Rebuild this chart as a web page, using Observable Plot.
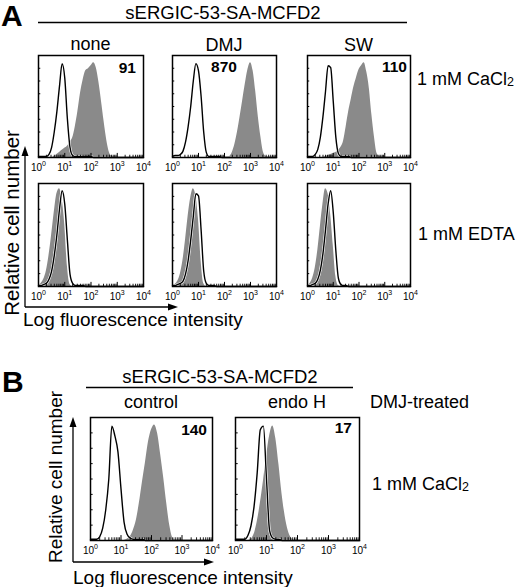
<!DOCTYPE html>
<html><head><meta charset="utf-8">
<script src="https://cdn.jsdelivr.net/npm/d3@7"></script>
<script src="https://cdn.jsdelivr.net/npm/@observablehq/plot@0.6"></script>
<style>
html,body{margin:0;padding:0;background:#fff;}
#fig{position:relative;width:520px;height:587px;overflow:hidden;font-family:"Liberation Sans",Arial,Helvetica,sans-serif;}
#fig svg{position:absolute;}
</style></head><body><div id="fig"></div>
<script>
// bin positions, log10 of fluorescence intensity
const logBins = [
  0.0,0.1,0.2,0.3,0.4,0.5,0.6,0.7,0.8,0.9,
  1.0,1.1,1.2,1.3,1.4,1.5,1.6,1.7,1.8,1.9,
  2.0,2.1,2.2,2.3,2.4,2.5,2.6,2.7,2.8,2.9,
  3.0,3.1,3.2,3.3,3.4,3.5,3.6,3.7,3.8,3.9,
  4.0];

const xTickValues = [1, 10, 100, 1000, 10000];
const xTickBase = ["10", "10", "10", "10", "10"];
const xTickExp = ["0", "1", "2", "3", "4"];

// Panel A, 1 mM CaCl2 (relative cell number, 0..1)
const noneCaOpen = [
  0.01,0.01,0.01,0.01,0.03,0.10,0.25,0.45,0.70,0.92,
  0.78,0.38,0.10,0.02,0.01,0.01,0.01,0.01,0.01,0.01,
  0.01,0,0,0,0,0,0,0,0,0,
  0,0,0,0,0,0,0,0,0,0,
  0];
const noneCaFill = [
  0,0,0,0,0,0,0.01,0.03,0.05,0.07,
  0.09,0.11,0.15,0.19,0.30,0.45,0.63,0.76,0.85,0.87,
  0.90,0.93,0.88,0.74,0.55,0.35,0.17,0.05,0.01,0,
  0,0,0,0,0,0,0,0,0,0,
  0];
const dmjCaOpen = [
  0.01,0.02,0.02,0.03,0.06,0.15,0.30,0.50,0.75,0.92,
  0.85,0.60,0.25,0.05,0.01,0.01,0.01,0.01,0.01,0,
  0,0,0,0,0,0,0,0,0,0,
  0,0,0,0,0,0,0,0,0,0,
  0];
const dmjCaFill = [
  0,0,0,0,0,0,0,0,0,0,
  0,0,0,0,0,0,0,0,0,0,
  0,0,0.01,0.05,0.13,0.25,0.40,0.56,0.72,0.86,
  0.93,0.85,0.65,0.40,0.20,0.05,0.01,0,0,0,
  0];
const swCaOpen = [
  0.01,0.01,0.01,0.03,0.08,0.20,0.40,0.65,0.90,0.88,
  0.55,0.20,0.04,0.01,0.01,0.01,0.01,0,0,0,
  0,0,0,0,0,0,0,0,0,0,
  0,0,0,0,0,0,0,0,0,0,
  0];
const swCaFill = [
  0,0,0,0,0,0,0,0.01,0.02,0.03,
  0.04,0.05,0.07,0.10,0.16,0.30,0.45,0.57,0.69,0.78,
  0.86,0.90,0.93,0.84,0.68,0.42,0.20,0.04,0.01,0,
  0,0,0,0,0,0,0,0,0,0,
  0];

// Panel A, 1 mM EDTA
const noneEdOpen = [
  0.01,0.01,0.02,0.03,0.07,0.15,0.30,0.50,0.75,0.93,
  0.80,0.45,0.12,0.03,0.01,0.01,0.01,0.01,0,0,
  0,0,0,0,0,0,0,0,0,0,
  0,0,0,0,0,0,0,0,0,0,
  0];
const noneEdFill = [
  0.01,0.03,0.07,0.15,0.30,0.50,0.72,0.90,0.95,0.85,
  0.60,0.20,0.02,0,0,0,0,0,0,0,
  0,0,0,0,0,0,0,0,0,0,
  0,0,0,0,0,0,0,0,0,0,
  0];
const dmjEdOpen = [
  0.01,0.01,0.02,0.03,0.05,0.12,0.25,0.45,0.68,0.90,
  0.88,0.55,0.15,0.03,0.01,0.01,0.01,0,0,0,
  0,0,0,0,0,0,0,0,0,0,
  0,0,0,0,0,0,0,0,0,0,
  0];
const dmjEdFill = [
  0.01,0.02,0.05,0.12,0.25,0.45,0.68,0.86,0.95,0.88,
  0.65,0.25,0.03,0,0,0,0,0,0,0,
  0,0,0,0,0,0,0,0,0,0,
  0,0,0,0,0,0,0,0,0,0,
  0];
const swEdOpen = [
  0.01,0.01,0.02,0.03,0.07,0.16,0.32,0.55,0.80,0.93,
  0.72,0.35,0.08,0.02,0.01,0.01,0,0,0,0,
  0,0,0,0,0,0,0,0,0,0,
  0,0,0,0,0,0,0,0,0,0,
  0];
const swEdFill = [
  0.01,0.03,0.08,0.18,0.35,0.58,0.80,0.95,0.90,0.70,
  0.40,0.10,0.01,0,0,0,0,0,0,0,
  0,0,0,0,0,0,0,0,0,0,
  0,0,0,0,0,0,0,0,0,0,
  0];

// Panel B, DMJ-treated, 1 mM CaCl2
const ctrlOpen = [
  0.01,0.01,0.01,0.03,0.10,0.25,0.50,0.93,0.85,0.72,
  0.42,0.15,0.05,0.02,0.01,0.01,0.01,0.01,0,0,
  0,0,0,0,0,0,0,0,0,0,
  0,0,0,0,0,0,0,0,0,0,
  0];
const ctrlFill = [
  0,0,0,0,0,0,0,0,0,0,
  0,0,0.01,0.03,0.08,0.16,0.30,0.47,0.63,0.80,
  0.90,0.94,0.87,0.70,0.51,0.30,0.12,0.02,0,0,
  0,0,0,0,0,0,0,0,0,0,
  0];
const endoOpen = [
  0.01,0.01,0.01,0.01,0.04,0.12,0.28,0.55,0.90,0.93,
  0.50,0.08,0.02,0.01,0.01,0,0,0,0,0,
  0,0,0,0,0,0,0,0,0,0,
  0,0,0,0,0,0,0,0,0,0,
  0];
const endoFill = [
  0,0,0,0,0,0.01,0.05,0.15,0.30,0.48,
  0.68,0.85,0.93,0.83,0.62,0.38,0.20,0.08,0.02,0,
  0,0,0,0,0,0,0,0,0,0,
  0,0,0,0,0,0,0,0,0,0,
  0];

// layout (pixel boxes of the plotting frames)
const panels = [
  {left:38,  top:55,  w:105, h:102, open:noneCaOpen, fill:noneCaFill},
  {left:172, top:55,  w:104, h:102, open:dmjCaOpen,  fill:dmjCaFill},
  {left:307, top:55,  w:103, h:102, open:swCaOpen,   fill:swCaFill},
  {left:38,  top:183, w:105, h:103, open:noneEdOpen, fill:noneEdFill},
  {left:172, top:183, w:104, h:103, open:dmjEdOpen,  fill:dmjEdFill},
  {left:307, top:183, w:103, h:103, open:swEdOpen,   fill:swEdFill},
  {left:90,  top:417, w:122, h:123, open:ctrlOpen,   fill:ctrlFill},
  {left:235, top:417, w:124, h:123, open:endoOpen,   fill:endoFill}
];

const FONT = '"Liberation Sans", Arial, Helvetica, sans-serif';
const fig = document.getElementById("fig");

// minor log ticks
const minorTicks = [];
for (const d of [1, 10, 100, 1000]) for (const k of [2,3,4,5,6,7,8,9]) minorTicks.push(d * k);
const yTickVals = [0.125,0.25,0.375,0.5,0.625,0.75,0.875];

const mL = 10, mR = 10, mT = 3, mB = 20;
for (const p of panels) {
  const data = logBins.map((l, i) => ({x: Math.pow(10, l), open: p.open[i], fill: p.fill[i]}));
  const svg = Plot.plot({
    width: p.w + mL + mR,
    height: p.h + mT + mB,
    marginLeft: mL, marginRight: mR, marginTop: mT, marginBottom: mB,
    style: {fontFamily: FONT, fontSize: "10px", overflow: "visible", background: "transparent"},
    x: {type: "log", domain: [1, 10000], axis: null},
    y: {domain: [0, 1], axis: null},
    marks: [
      Plot.areaY(data, {x: "x", y: "fill", fill: "#8a8a8a", curve: "monotone-x"}),
      Plot.lineY(data, {x: "x", y: "open", stroke: "white", strokeWidth: 2.6, curve: "monotone-x"}),
      Plot.lineY(data, {x: "x", y: "open", stroke: "black", strokeWidth: 1.4, curve: "monotone-x"}),
      Plot.ruleX(minorTicks, {x: d => d, y1: 0, y2: 0.022, stroke: "black", strokeWidth: 0.9}),
      Plot.ruleX(xTickValues, {x: d => d, y1: 0, y2: 0.04, stroke: "black", strokeWidth: 1}),
      Plot.ruleY(yTickVals, {y: d => d, x1: 1, x2: 1.22, stroke: "black", strokeWidth: 1}),
      Plot.frame({stroke: "black", strokeWidth: 1.5}),
      Plot.text(xTickValues, {x: d => d, y: 0, text: (d, i) => xTickBase[i], dy: 10, dx: -2, fontSize: 10, fill: "black"}),
      Plot.text(xTickValues, {x: d => d, y: 0, text: (d, i) => xTickExp[i], dy: 6, dx: 3.6, fontSize: 7, textAnchor: "start", fill: "black"})
    ]
  });
  svg.style.left = (p.left - mL) + "px";
  svg.style.top = (p.top - mT) + "px";
  fig.appendChild(svg);
}

// text & arrows overlay
const ns = "http://www.w3.org/2000/svg";
const ov = document.createElementNS(ns, "svg");
ov.setAttribute("width", 520); ov.setAttribute("height", 587);
ov.style.left = "0px"; ov.style.top = "0px";
ov.setAttribute("font-family", FONT);
ov.innerHTML = `
<text x="1" y="26" font-size="30" font-weight="bold">A</text>
<text x="223" y="19" font-size="18.5" text-anchor="middle">sERGIC-53-SA-MCFD2</text>
<line x1="38" x2="407" y1="22.5" y2="22.5" stroke="black" stroke-width="1.3"/>
<text x="90.5" y="50" font-size="18" text-anchor="middle">none</text>
<text x="224" y="51" font-size="18" text-anchor="middle">DMJ</text>
<text x="358.5" y="51" font-size="18" text-anchor="middle">SW</text>
<text x="136" y="73" font-size="15.5" font-weight="bold" text-anchor="end">91</text>
<text x="224" y="72" font-size="15.5" font-weight="bold" text-anchor="middle">870</text>
<text x="407" y="72" font-size="15.5" font-weight="bold" text-anchor="end">110</text>
<text x="417" y="85" font-size="18">1 mM CaCl<tspan font-size="12.5" dy="1">2</tspan></text>
<text x="418" y="240" font-size="18">1 mM EDTA</text>
<text transform="translate(18.5,223) rotate(-90)" font-size="20.5" text-anchor="middle">Relative cell number</text>
<line x1="25" y1="307" x2="25" y2="154" stroke="black" stroke-width="1.3"/>
<path d="M25,146 L21.5,156 L28.5,156 Z" fill="black"/>
<line x1="25" y1="307" x2="170" y2="307" stroke="black" stroke-width="1.3"/>
<path d="M178,307 L168,303.5 L168,310.5 Z" fill="black"/>
<text x="23" y="326" font-size="19">Log fluorescence intensity</text>

<text x="2" y="392" font-size="30" font-weight="bold">B</text>
<text x="220" y="383" font-size="18.5" text-anchor="middle">sERGIC-53-SA-MCFD2</text>
<line x1="86" x2="353" y1="387.5" y2="387.5" stroke="black" stroke-width="1.3"/>
<text x="151" y="408" font-size="18" text-anchor="middle">control</text>
<text x="297" y="408" font-size="18" text-anchor="middle">endo H</text>
<text x="370" y="408" font-size="18">DMJ-treated</text>
<text x="207" y="435" font-size="15.5" font-weight="bold" text-anchor="end">140</text>
<text x="352" y="433" font-size="15.5" font-weight="bold" text-anchor="end">17</text>
<text x="372" y="490" font-size="18">1 mM CaCl<tspan font-size="12.5" dy="1">2</tspan></text>
<text transform="translate(62,477) rotate(-90)" font-size="19" text-anchor="middle">Relative cell number</text>
<line x1="73" y1="562" x2="73" y2="425" stroke="black" stroke-width="1.3"/>
<path d="M73,417 L69.5,427 L76.5,427 Z" fill="black"/>
<line x1="73" y1="562" x2="206" y2="562" stroke="black" stroke-width="1.3"/>
<path d="M214,562 L204,558.5 L204,565.5 Z" fill="black"/>
<text x="73" y="584" font-size="19">Log fluorescence intensity</text>
`;
fig.insertBefore(ov, fig.firstChild);
</script>
</body></html>
